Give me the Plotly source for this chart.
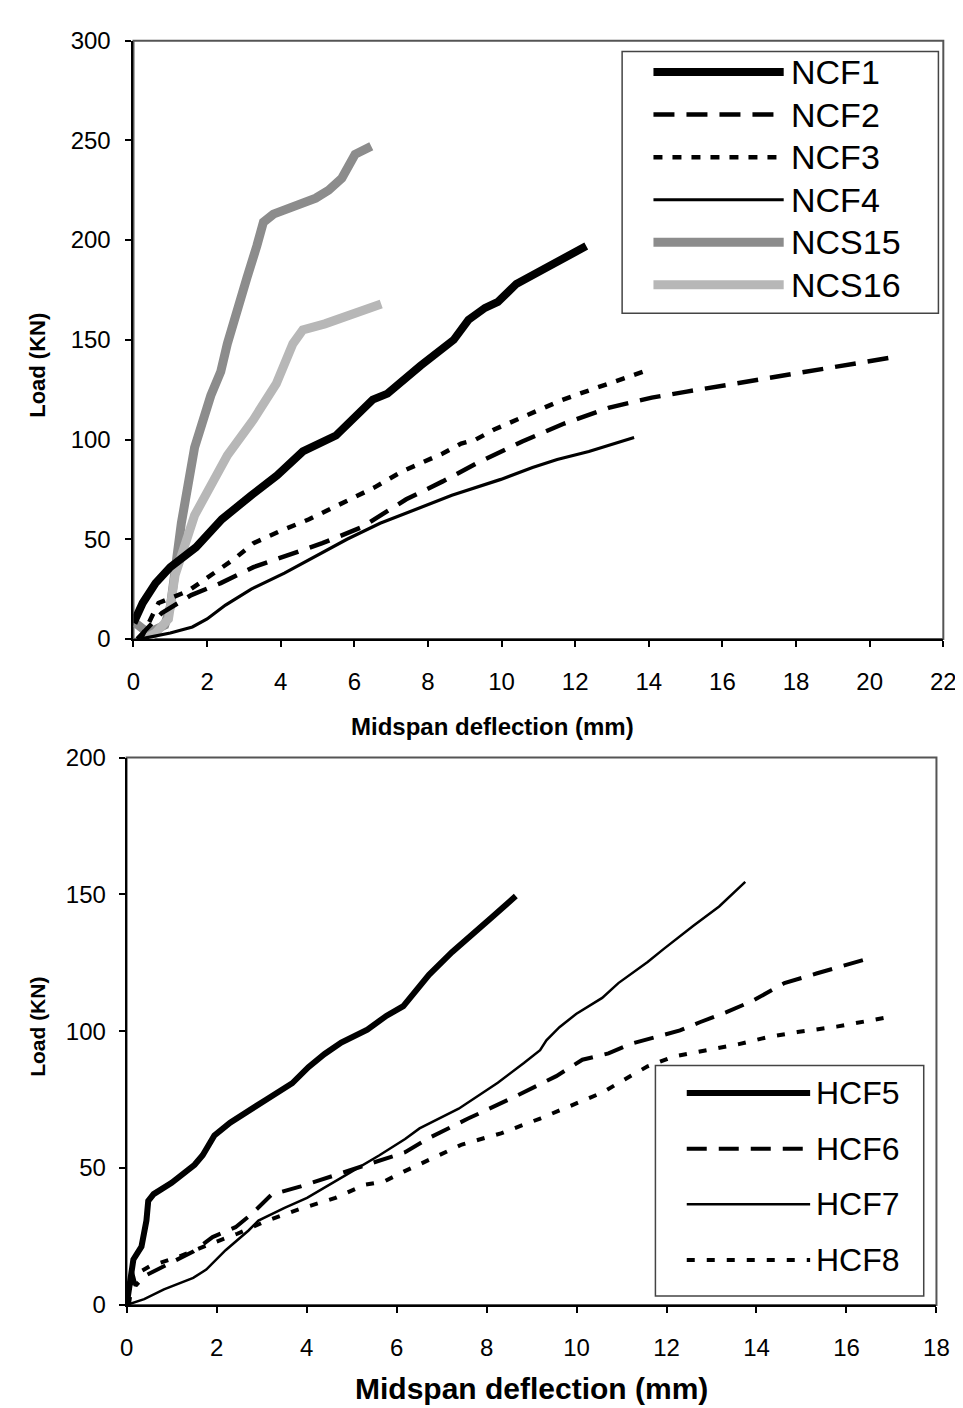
import plotly.graph_objects as go

# ---------------- data: top chart (NC beams) ----------------
ncf1_x = [0, 0.25, 0.6, 1.0, 1.7, 2.4, 3.2, 3.9, 4.6, 5.5, 6.5, 6.9, 7.8, 8.7, 9.1, 9.55, 9.9, 10.4, 11.1, 11.7, 12.3]
ncf1_y = [8, 18, 28, 36, 46, 60, 72, 82, 94, 102, 120, 123, 137, 150, 160, 166, 169, 178, 185, 191, 197]

ncf2_x = [0.1, 0.4, 0.77, 1.57, 2.37, 3.26, 4.24, 5.13, 6.2, 7.41, 8.4, 9.32, 10.56, 11.7, 12.93, 14.08, 15.03, 15.99, 16.94, 18.18, 19.32, 20.55]
ncf2_y = [0, 6, 13, 22, 28, 36, 42, 48, 56, 70, 79, 88, 99, 108, 116, 121, 124, 127, 130, 133.5, 137, 141]

ncf3_x = [0.2, 0.68, 1.48, 2.1, 2.73, 3.26, 3.97, 4.77, 5.66, 6.55, 7.3, 8.4, 8.9, 9.3, 9.8, 10.4, 11.0, 11.6, 12.2, 12.9, 13.5, 14.0]
ncf3_y = [0, 18, 24, 32, 40, 48, 54, 60, 68, 76, 84, 93, 98, 100, 105, 110, 115, 119.5, 123.5, 128, 132, 135]

ncf4_x = [0.2, 1.0, 1.6, 2.0, 2.5, 3.2, 4.1, 5.0, 5.8, 6.7, 7.41, 8.65, 9.98, 10.84, 11.51, 12.37, 13.6]
ncf4_y = [0, 3, 6, 10, 17, 25, 33, 42, 50, 58, 63, 72, 80, 86, 90, 94, 101]

ncs15_x = [0.05, 0.4, 0.85, 1.0, 1.3, 1.66, 2.1, 2.37, 2.55, 2.82, 3.08, 3.35, 3.53, 3.8, 4.33, 4.95, 5.3, 5.66, 6.02, 6.46]
ncs15_y = [8, 3, 7, 16, 58, 96, 122, 134, 148, 163, 181, 197, 209, 213, 217, 221, 225, 231, 243, 247]

ncs16_x = [0.3, 0.6, 0.95, 1.13, 1.66, 2.55, 3.26, 3.88, 4.33, 4.6, 5.2, 5.93, 6.73]
ncs16_y = [0, 3, 10, 32, 62, 92, 110, 128, 148, 155, 158, 163, 168]

# ---------------- data: bottom chart (HC beams) ----------------
hcf5_x = [0, 0.15, 0.33, 0.44, 0.48, 0.6, 1.0, 1.51, 1.69, 1.95, 2.3, 2.74, 3.1, 3.68, 4.04, 4.4, 4.77, 5.35, 5.78, 6.15, 6.43, 6.72, 7.23, 7.67, 8.1, 8.65]
hcf5_y = [0, 16.6, 21.3, 30.8, 38, 40.5, 44.6, 51.2, 54.7, 61.9, 66.6, 71.4, 75, 81, 86.9, 91.7, 95.9, 100.6, 105.7, 109.2, 114.6, 120.6, 128.9, 135.5, 141.4, 149.4]

hcf6_x = [0, 0.12, 0.2, 0.39, 0.97, 1.48, 1.91, 2.42, 2.78, 3.22, 3.87, 4.67, 5.46, 6.19, 6.72, 7.59, 8.68, 9.55, 10.13, 10.71, 11.22, 11.72, 12.3, 12.74, 13.32, 13.9, 14.62, 15.35, 16.43]
hcf6_y = [0, 12, 7, 10.5, 15.3, 19.5, 24.8, 28.4, 33.2, 40.3, 43.3, 47.5, 51.6, 55.8, 61, 68.1, 76.5, 83.6, 89.6, 91.9, 95.5, 97.9, 100.3, 103.3, 106.9, 111, 117.6, 121.2, 126.3]

hcf7_x = [0, 0.39, 0.83, 1.48, 1.77, 2.2, 2.71, 2.93, 3.51, 4.01, 4.88, 5.61, 6.19, 6.51, 7.38, 8.25, 8.83, 9.19, 9.33, 9.62, 9.99, 10.57, 10.93, 11.58, 11.94, 12.59, 13.17, 13.75]
hcf7_y = [0, 2.1, 5.7, 9.9, 12.9, 20, 27.2, 30.8, 35.5, 39.1, 47.5, 54.6, 60.6, 64.5, 71.7, 81.2, 88.4, 93.1, 96.7, 101.5, 106.3, 112.2, 117.6, 125.3, 130.1, 138.5, 145.6, 154.6]

hcf8_x = [0.05, 0.14, 0.51, 1.16, 1.88, 2.46, 3.12, 3.84, 4.64, 5.29, 5.72, 6.16, 7.45, 8.32, 9.19, 10.06, 10.57, 11.07, 11.58, 12.16, 12.52, 13.03, 13.61, 14.26, 14.91, 15.78, 16.36, 16.87]
hcf8_y = [0, 10.5, 14.1, 17.6, 22.4, 26, 30.8, 35, 39.1, 43.9, 45.1, 48.7, 58.6, 62.7, 68.1, 74.1, 77.6, 82.4, 87.2, 90.8, 92, 93.7, 95.3, 97.9, 99.7, 101.7, 103.5, 105]

top_names = ["NCF1", "NCF2", "NCF3", "NCF4", "NCS15", "NCS16"]
bot_names = ["HCF5", "HCF6", "HCF7", "HCF8"]
top_x_ticks = list(range(0, 23, 2))
top_y_ticks = list(range(0, 301, 50))
bot_x_ticks = list(range(0, 19, 2))
bot_y_ticks = list(range(0, 201, 50))
x_title = "Midspan deflection (mm)"
y_title = "Load (KN)"

# ---------------- styles ----------------
top_styles = {
    "NCF1": dict(color="black", width=8, dash="solid"),
    "NCF2": dict(color="black", width=4.5, dash="21px,12px"),
    "NCF3": dict(color="black", width=4.5, dash="9px,10px"),
    "NCF4": dict(color="black", width=3.2, dash="solid"),
    "NCS15": dict(color="#8c8c8c", width=9, dash="solid"),
    "NCS16": dict(color="#b7b7b7", width=9, dash="solid"),
}
bot_styles = {
    "HCF5": dict(color="black", width=6, dash="solid"),
    "HCF6": dict(color="black", width=4, dash="20px,12px"),
    "HCF7": dict(color="black", width=2.5, dash="solid"),
    "HCF8": dict(color="black", width=4, dash="8px,12px"),
}

W, H = 963, 1408
def px(x):
    return x / W
def py(y):
    return 1 - y / H

FONT = "Liberation Sans, Arial, sans-serif"

fig = go.Figure()
top_data = dict(NCF1=(ncf1_x, ncf1_y), NCF2=(ncf2_x, ncf2_y), NCF3=(ncf3_x, ncf3_y),
                NCF4=(ncf4_x, ncf4_y), NCS15=(ncs15_x, ncs15_y), NCS16=(ncs16_x, ncs16_y))
bot_data = dict(HCF5=(hcf5_x, hcf5_y), HCF6=(hcf6_x, hcf6_y), HCF7=(hcf7_x, hcf7_y), HCF8=(hcf8_x, hcf8_y))

for name in ["NCS15", "NCS16", "NCF4", "NCF3", "NCF2", "NCF1"]:
    xs, ys = top_data[name]
    fig.add_trace(go.Scatter(x=xs, y=ys, mode="lines", name=name, line=top_styles[name],
                             xaxis="x", yaxis="y", showlegend=False))
for name in bot_names:
    xs, ys = bot_data[name]
    fig.add_trace(go.Scatter(x=xs, y=ys, mode="lines", name=name, line=bot_styles[name],
                             xaxis="x2", yaxis="y2", showlegend=False))

axis_common = dict(showgrid=False, zeroline=False, showline=True, linecolor="black", linewidth=2,
                   ticks="outside", ticklen=6, tickwidth=1.5, tickcolor="black",
                   tickfont=dict(family=FONT, size=24, color="black"), fixedrange=True)

fig.update_layout(
    width=W, height=H, margin=dict(l=0, r=0, t=0, b=0),
    paper_bgcolor="white", plot_bgcolor="white", showlegend=False,
    xaxis=dict(domain=[px(121), px(948)], range=[0, 22], tickvals=top_x_ticks, anchor="y",
               ticklabelstandoff=14, **axis_common),
    yaxis=dict(domain=[py(629), py(19)], range=[0, 300], tickvals=top_y_ticks, anchor="x",
               ticklabelstandoff=10, **axis_common),
    xaxis2=dict(domain=[px(114), px(941)], range=[0, 18], tickvals=bot_x_ticks, anchor="y2",
                ticklabelstandoff=14, **axis_common),
    yaxis2=dict(domain=[py(1308), py(750)], range=[0, 200], tickvals=bot_y_ticks, anchor="x2",
                ticklabelstandoff=8, **axis_common),
)

shapes = []
annotations = []
# plot frames
for xr, yr in [("x", "y"), ("x2", "y2")]:
    shapes.append(dict(type="rect", xref=f"{xr} domain", yref=f"{yr} domain", x0=0, x1=1, y0=0, y1=1,
                       line=dict(color="#555555", width=2), layer="below"))

# axis titles
annotations.append(dict(text=f"<b>{x_title}</b>", x=px(488), y=py(718), xref="paper", yref="paper",
                        showarrow=False, xanchor="center", yanchor="middle",
                        font=dict(family=FONT, size=24, color="black")))
annotations.append(dict(text=f"<b>{y_title}</b>", x=px(23), y=py(350), xref="paper", yref="paper",
                        showarrow=False, textangle=-90, xanchor="center", yanchor="middle",
                        font=dict(family=FONT, size=22, color="black")))
annotations.append(dict(text=f"<b>{x_title}</b>", x=px(527), y=py(1393), xref="paper", yref="paper",
                        showarrow=False, xanchor="center", yanchor="middle",
                        font=dict(family=FONT, size=30, color="black")))
annotations.append(dict(text=f"<b>{y_title}</b>", x=px(23), y=py(1025), xref="paper", yref="paper",
                        showarrow=False, textangle=-90, xanchor="center", yanchor="middle",
                        font=dict(family=FONT, size=21, color="black")))

# custom legends (long line samples, like the original)
def legend(names, styles, box, line_x, text_x, y0, dy, fsize):
    shapes.append(dict(type="rect", xref="paper", yref="paper",
                       x0=px(box[0]), x1=px(box[1]), y0=py(box[3]), y1=py(box[2]),
                       line=dict(color="#444444", width=1.5), fillcolor="white", layer="above"))
    for i, n in enumerate(names):
        yy = y0 + dy * i
        st = styles[n]
        shapes.append(dict(type="line", xref="paper", yref="paper",
                           x0=px(line_x[0]), x1=px(line_x[1]), y0=py(yy), y1=py(yy),
                           line=dict(color=st["color"], width=st["width"], dash=st["dash"]),
                           layer="above"))
        annotations.append(dict(text=n, x=px(text_x), y=py(yy), xref="paper", yref="paper",
                                showarrow=False, xanchor="left", yanchor="middle",
                                font=dict(family=FONT, size=fsize, color="black")))

legend(top_names, top_styles, (620, 943, 30, 297), (652, 785), 790, 51, 43.4, 34)
legend(bot_names, bot_styles, (654, 928, 1064, 1299), (686, 812), 816, 1092, 56.7, 32)

fig.update_layout(shapes=shapes, annotations=annotations)
fig.write_html("out.html")
